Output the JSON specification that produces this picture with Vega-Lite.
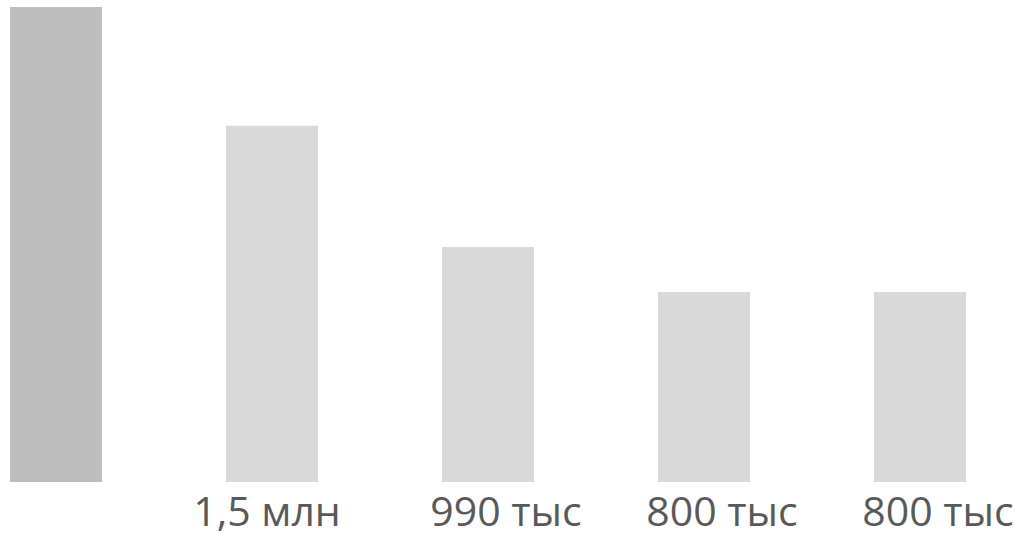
{
  "$schema": "https://vega.github.io/schema/vega-lite/v6.json",
  "width": 976,
  "height": 475,
  "autosize": {"type": "none"},
  "padding": {"left": 0, "top": 7, "right": 47, "bottom": 52},
  "background": "white",
  "config": {"view": {"stroke": null}},
  "data": {
    "values": [
      {"id": "1", "value": 2000, "label": "", "highlight": "yes"},
      {"id": "2", "value": 1500, "label": "1,5 млн", "highlight": "no"},
      {"id": "3", "value": 990, "label": "990 тыс", "highlight": "no"},
      {"id": "4", "value": 800, "label": "800 тыс", "highlight": "no"},
      {"id": "5", "value": 800, "label": "800 тыс", "highlight": "no"}
    ]
  },
  "encoding": {
    "x": {
      "field": "id",
      "type": "nominal",
      "sort": null,
      "scale": {"paddingInner": 0.574, "paddingOuter": 0.0463},
      "axis": null
    }
  },
  "layer": [
    {
      "mark": {"type": "bar"},
      "encoding": {
        "y": {"field": "value", "type": "quantitative", "scale": {"domain": [0, 2000]}, "axis": null},
        "color": {
          "field": "highlight",
          "type": "nominal",
          "scale": {"domain": ["yes", "no"], "range": ["#bebebe", "#d9d9d9"]},
          "legend": null
        }
      }
    },
    {
      "transform": [{"filter": "datum.id == '2'"}],
      "mark": {"type": "text", "font": "Open Sans", "fontSize": 41, "color": "#595959", "baseline": "alphabetic", "dy": 44, "dx": -5},
      "encoding": {
        "y": {"datum": 0, "type": "quantitative"},
        "text": {"field": "label"}
      }
    },
    {
      "transform": [{"filter": "datum.id != '2'"}],
      "mark": {"type": "text", "font": "Open Sans", "fontSize": 41, "color": "#595959", "baseline": "alphabetic", "dy": 44, "dx": 18},
      "encoding": {
        "y": {"datum": 0, "type": "quantitative"},
        "text": {"field": "label"}
      }
    }
  ]
}
